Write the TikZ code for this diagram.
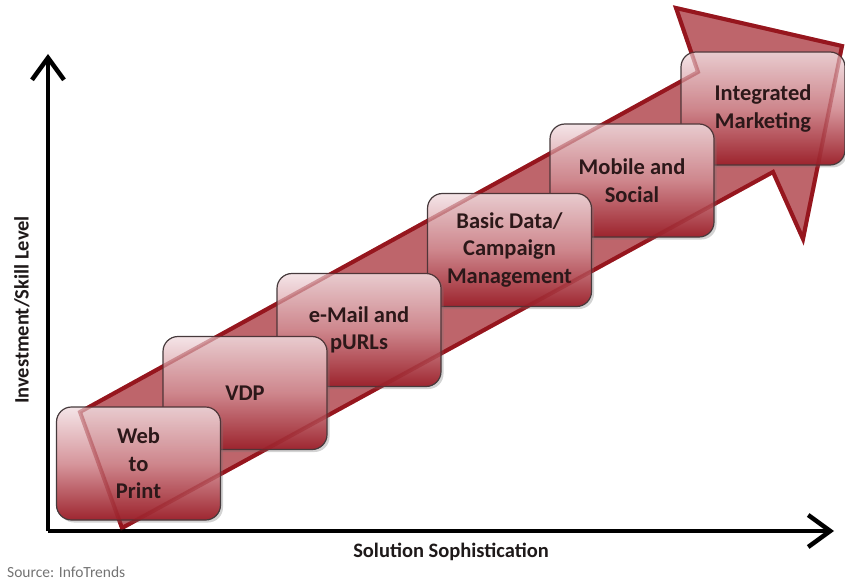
\documentclass[tikz,border=0pt]{standalone}
\usepackage{fontspec}
\setmainfont{Carlito}
\usetikzlibrary{arrows.meta,shadows}
\definecolor{bandfill}{RGB}{196,112,118}
\definecolor{bandline}{RGB}{150,22,30}
\definecolor{boxtop}{RGB}{244,228,231}
\definecolor{boxmid}{RGB}{214,150,156}
\definecolor{boxbot}{RGB}{158,38,48}
\definecolor{boxedge}{RGB}{70,58,60}
\definecolor{txt}{RGB}{30,25,25}
\tikzset{
  stagebox/.style={rounded corners=15pt, minimum width=164pt, minimum height=113pt,
    draw=boxedge, line width=1.2pt, top color=boxtop, bottom color=boxbot, middle color=boxmid,
    drop shadow={shadow xshift=2.5pt, shadow yshift=-2.5pt, opacity=0.35},
    align=center, text=txt, font=\fontsize{22.5}{27.5}\selectfont\bfseries, inner sep=0pt},
  axisline/.style={line width=4.5pt, -{Straight Barb[length=22pt,width=32pt]}},
  bandshape/.style={line width=4pt, line join=miter},
  axislabel/.style={text=txt, font=\fontsize{20.5}{22}\selectfont\bfseries, inner sep=0pt}
}
\begin{document}
\begin{tikzpicture}[x=1pt,y=-1pt]
\useasboundingbox (0,0) rectangle (845,580);
% band arrow (underneath)
\coordinate (t1) at (80,412);
\coordinate (n1) at (698,72);
\coordinate (b1) at (676,8);
\coordinate (tip) at (842,46);
\coordinate (b2) at (803,239);
\coordinate (n2) at (773,172);
\coordinate (t2) at (122,528);
\path[bandshape, fill=bandfill, draw=bandline] (t1) -- (n1) -- (b1) -- (tip) -- (b2) -- (n2) -- (t2) -- cycle;
% axes
\coordinate (o) at (48,531);
\coordinate (ytop) at (48,54);
\coordinate (xend) at (834,531);
\draw[axisline] (o) -- (ytop);
\draw[axisline] (o) -- (xend);
% stage boxes (later stages drawn first)
\node[stagebox] (integ) at (763,108.5) {Integrated\\Marketing};
\node[stagebox] (mobile) at (632,180.5) {Mobile and\\Social};
\node[stagebox] (basic) at (509.5,250) {Basic Data/\\Campaign\\Management};
\node[stagebox] (email) at (359,330) {e-Mail and\\pURLs};
\node[stagebox] (vdp) at (245,393) {VDP};
\node[stagebox] (web) at (138.5,463.5) {Web\\to\\Print};
% band arrow again, faint, over the boxes
\path[bandshape, fill=bandline, fill opacity=0.12, draw=bandline, draw opacity=0.35] (t1) -- (n1) -- (b1) -- (tip) -- (b2) -- (n2) -- (t2) -- cycle;
% labels
\node[axislabel, rotate=90] (ylab) at (22,310) {Investment/Skill Level};
\node[axislabel] (xlab) at (451,552) {Solution Sophistication};
\node[text={rgb,255:red,115;green,115;blue,115}, font=\fontsize{15.5}{17}\selectfont, anchor=west, inner sep=0pt] (src) at (7,572) {Source: InfoTrends};
\end{tikzpicture}
\end{document}
